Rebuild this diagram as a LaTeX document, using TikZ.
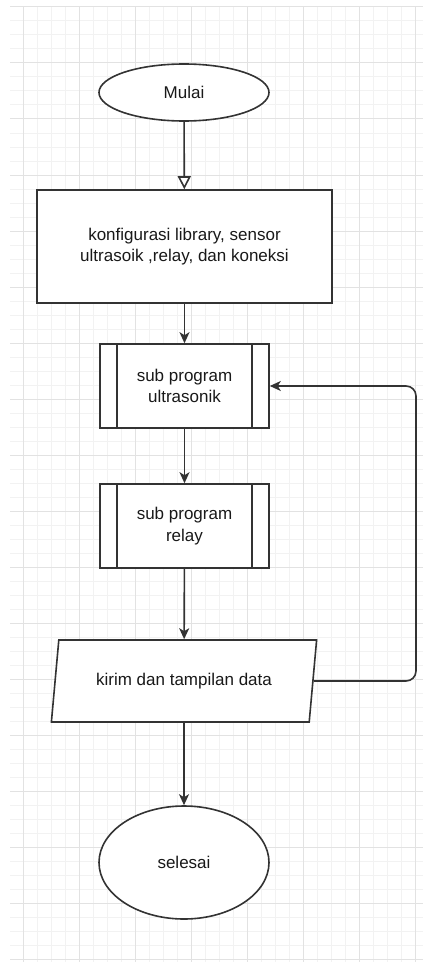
\documentclass[tikz,border=0pt]{standalone}
\usepackage{fontspec}
\setmainfont{Liberation Sans}
\usetikzlibrary{shapes.geometric,arrows.meta}
\definecolor{gmajor}{HTML}{E2E2E2}
\definecolor{gminor}{HTML}{F2F2F2}
\definecolor{ink}{HTML}{333333}
\begin{document}
\begin{tikzpicture}[x=1pt,y=-1pt,
  base/.style={draw=ink, line width=1.6pt, fill=white, text=black!90, inner sep=0pt, align=center,
    font=\fontsize{17}{21.5}\selectfont},
  terminal/.style={base, ellipse, minimum width=170, minimum height=57},
  procbox/.style={base, rectangle, minimum width=295, minimum height=113},
  subproc/.style={base, rectangle, minimum width=169, minimum height=84,
    path picture={
      \draw[ink, line width=1.6pt] ([xshift=17pt]path picture bounding box.north west) -- ([xshift=17pt]path picture bounding box.south west);
      \draw[ink, line width=1.6pt] ([xshift=-17pt]path picture bounding box.north east) -- ([xshift=-17pt]path picture bounding box.south east);
    }},
  iobox/.style={base, trapezium, trapezium left angle=71.8, trapezium right angle=108.2,
    trapezium stretches=true, minimum width=266, minimum height=82},
  arr/.style={draw=ink, line width=1.6pt, -{Stealth[length=11pt, width=10pt, inset=3pt]}},
  openarr/.style={draw=ink, line width=1.6pt, -{Triangle[open, length=13pt, width=13pt, fill=white]}}
]
\useasboundingbox (0,0) rectangle (423,963);
\fill[white] (0,0) rectangle (423,963);
\begin{scope}
  \clip (10,7) rectangle (423,961);
  \foreach \x in {9,23,...,423} \draw[gminor, line width=1pt] (\x,0) -- (\x,963);
  \foreach \y in {7,21,...,963} \draw[gminor, line width=1pt] (0,\y) -- (423,\y);
  \foreach \x in {23,79,...,423} \draw[gmajor, line width=1pt] (\x,0) -- (\x,963);
  \foreach \y in {7,63,...,963} \draw[gmajor, line width=1pt] (0,\y) -- (423,\y);
\end{scope}

\node[terminal] (mulai) at (184,92.5) {Mulai};
\node[procbox] (konf) at (184.5,246.5) {konfigurasi library, sensor\\ultrasoik ,relay, dan koneksi};
\node[subproc] (sub1) at (184.5,386) {sub program\\ultrasonik};
\node[subproc] (sub2) at (184.5,526) {sub program\\relay};
\node[iobox] (kirim) at (184,681) {kirim dan tampilan data};
\node[terminal, minimum height=113] (selesai) at (184,862.5) {selesai};
\coordinate (turn) at (416,386);

\draw[openarr] (mulai) -- (konf);
\draw[arr] (konf) -- (sub1);
\draw[arr] (sub1) -- (sub2);
\draw[arr] (sub2) -- (kirim);
\draw[arr] (kirim) -- (selesai);
\draw[arr, rounded corners=10pt] (kirim.east) -| (turn) -- (sub1.east);
\end{tikzpicture}
\end{document}
